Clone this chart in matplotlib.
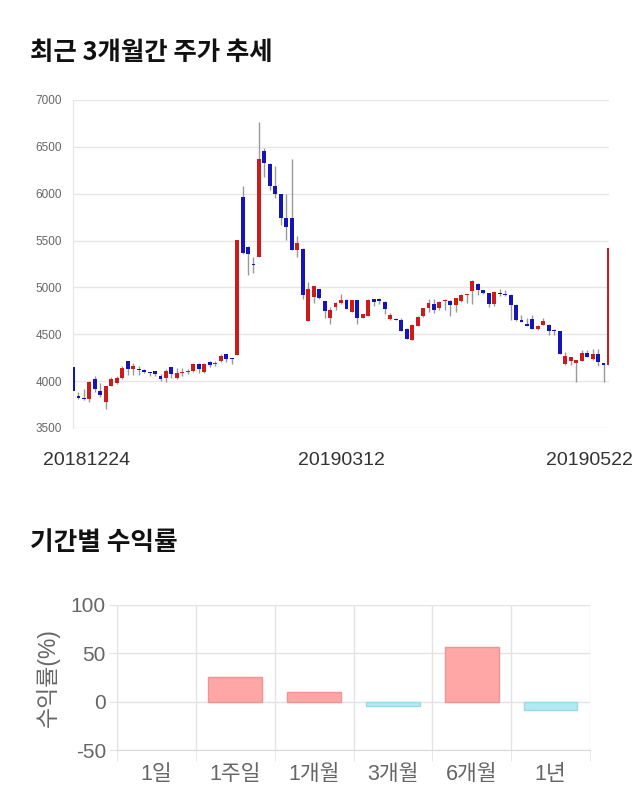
import numpy as np
import matplotlib
matplotlib.use("Agg")
import matplotlib.pyplot as plt
from matplotlib.transforms import ScaledTranslation

plt.rcParams['font.family'] = ['Liberation Sans', 'Noto Sans CJK KR', 'DejaVu Sans']
plt.rcParams['axes.unicode_minus'] = False

# daily candles (open, high, low, close), 20181224 ~ 20190522
opens = [4150, 3840, 3815, 3805, 4020, 3890, 3780, 3950, 3975, 4030,
         4215, 4125, 4128, 4118, 4095, 4105, 4057, 4035, 4150, 4035,
         4085, 4100, 4105, 4180, 4100, 4205, 4185, 4220, 4285, 4245,
         4280, 5960, 5435, 5250, 5330, 6455, 6320, 6080, 5995, 5745,
         5745, 5400, 5415, 4645, 4900, 4980, 4855, 4670, 4795, 4830,
         4865, 4740, 4865, 4678, 4695, 4872, 4880, 4848, 4660, 4660,
         4650, 4560, 4440, 4590, 4690, 4780, 4825, 4780, 4850, 4850,
         4808, 4850, 4915, 4958, 5040, 4968, 4940, 4825, 4935, 4925,
         4920, 4815, 4655, 4612, 4660, 4558, 4600, 4600, 4541, 4536,
         4180, 4218, 4190, 4218, 4304, 4232, 4290, 4189, 4172]
highs = [4150, 3880, 3920, 4000, 4055, 3975, 3950, 4040, 4050, 4160,
         4215, 4190, 4160, 4125, 4100, 4110, 4075, 4130, 4155, 4140,
         4140, 4130, 4190, 4190, 4190, 4215, 4210, 4290, 4290, 4250,
         5510, 6080, 5440, 5330, 6770, 6485, 6330, 6295, 6000, 5995,
         6370, 5550, 5420, 5060, 5020, 4985, 4860, 4790, 4840, 4935,
         4880, 4870, 4870, 4720, 4880, 4880, 4885, 4850, 4730, 4670,
         4670, 4565, 4610, 4690, 4785, 4875, 4880, 4850, 4880, 4870,
         4890, 4930, 4935, 5075, 5045, 4975, 4945, 4960, 4985, 4970,
         4930, 4820, 4710, 4670, 4710, 4600, 4675, 4605, 4560, 4540,
         4310, 4260, 4230, 4330, 4330, 4345, 4340, 4195, 5420]
lows = [3900, 3810, 3800, 3780, 3885, 3835, 3700, 3945, 3970, 4025,
        4065, 4070, 4070, 4085, 4060, 4050, 4000, 3990, 4030, 4020,
        4060, 4080, 4100, 4085, 4090, 4150, 4160, 4200, 4200, 4180,
        4275, 5360, 5130, 5150, 5325, 6180, 6040, 5950, 5665, 5505,
        5395, 5330, 4880, 4640, 4830, 4880, 4670, 4615, 4760, 4820,
        4770, 4735, 4615, 4670, 4690, 4800, 4820, 4720, 4655, 4650,
        4530, 4450, 4435, 4585, 4685, 4735, 4730, 4760, 4760, 4700,
        4740, 4845, 4830, 4820, 4915, 4935, 4790, 4800, 4905, 4905,
        4650, 4645, 4630, 4585, 4555, 4550, 4595, 4495, 4495, 4285,
        4175, 4170, 3995, 4215, 4255, 4225, 4160, 3995, 4165]
closes = [3900, 3815, 3810, 3990, 3920, 3850, 3945, 4020, 4035, 4145,
          4125, 4160, 4120, 4095, 4090, 4075, 4020, 4105, 4080, 4090,
          4095, 4105, 4180, 4125, 4180, 4170, 4190, 4265, 4240, 4240,
          5510, 5365, 5355, 5240, 6370, 6325, 6080, 5995, 5745, 5650,
          5400, 5470, 4920, 4980, 5015, 4890, 4745, 4760, 4830, 4865,
          4775, 4865, 4675, 4712, 4870, 4848, 4850, 4770, 4705, 4655,
          4540, 4455, 4600, 4687, 4780, 4830, 4760, 4843, 4868, 4808,
          4886, 4921, 4932, 5064, 4968, 4940, 4825, 4954, 4930, 4920,
          4815, 4648, 4636, 4590, 4557, 4593, 4646, 4536, 4536, 4290,
          4268, 4254, 4225, 4304, 4261, 4289, 4200, 4172, 5420]
date_ticks = [0, 49, 98]
date_labels = ['20181224', '20190312', '20190522']

# period returns
periods = ['1일', '1주일', '1개월', '3개월', '6개월', '1년']
returns = [0.0, 25.7, 9.6, -4.1, 56.8, -8.6]

W, H = 640, 810
fig = plt.figure(figsize=(W / 100, H / 100), dpi=100)

def box(left, top, right, bottom):
    return [left / W, 1 - bottom / H, (right - left) / W, (bottom - top) / H]

title_font = ['Noto Sans CJK KR', 'DejaVu Sans']
fig.text(30 / W, 1 - 52 / H, '최근 3개월간 주가 추세', fontsize=18.3, family=title_font,
         fontweight='bold', va='center', ha='left', color='#111111')
fig.text(30 / W, 1 - 543 / H, '기간별 수익률', fontsize=18.5, family=title_font,
         fontweight='bold', va='center', ha='left', color='#111111')

# --- candlestick chart ---
ax = fig.add_axes(box(73, 100, 609, 428))
o = np.array(opens, float)
c = np.array(closes, float)
x = np.arange(len(o))
up = c >= o
ax.vlines(x, lows, highs, color='#999999', linewidth=1, zorder=2)
body_low = np.minimum(o, c)
body_h = np.maximum(np.abs(c - o), 12)
ax.bar(x[up], body_h[up], bottom=body_low[up], width=0.72,
       color='#cc1b1b', linewidth=0, zorder=3)
ax.bar(x[~up], body_h[~up], bottom=body_low[~up], width=0.72,
       color='#1414b8', linewidth=0, zorder=3)
ax.set_xlim(0, len(o) - 1)
ax.set_ylim(3500, 7000)
ax.set_yticks(np.arange(3500, 7001, 500))
ax.yaxis.grid(True, color='#e6e6e6', linewidth=1)
ax.set_axisbelow(True)
for s in ['top', 'right', 'bottom']:
    ax.spines[s].set_visible(False)
ax.spines['left'].set_color('#e6e6e6')
ax.tick_params(axis='y', length=0, pad=8, labelsize=8.5, labelcolor='#666666')
ax.tick_params(axis='x', length=0, pad=17, labelsize=14, labelcolor='#333333')
ax.set_xticks(date_ticks)
ax.set_xticklabels(date_labels)
labs = ax.get_xticklabels()
labs[0].set_transform(labs[0].get_transform() + ScaledTranslation(0.14, 0, fig.dpi_scale_trans))
labs[-1].set_transform(labs[-1].get_transform() + ScaledTranslation(-0.20, 0, fig.dpi_scale_trans))

# --- returns bar chart ---
bx = fig.add_axes(box(117, 605, 590, 750))
pos = np.arange(len(periods))
vals = np.array(returns)
face = ['#ffa6a6' if v >= 0 else '#b3e9f3' for v in vals]
edge = ['#f09393' if v >= 0 else '#97dbe9' for v in vals]
lw = [1 if v != 0 else 0 for v in vals]
bx.bar(pos, vals, width=0.68, color=face, edgecolor=edge, linewidth=lw, zorder=3)
bx.set_xlim(-0.5, len(periods) - 0.5)
bx.set_ylim(-50, 100)
bx.set_yticks([-50, 0, 50, 100])
bx.set_xticks(pos)
bx.set_xticklabels(periods)
bx.set_xticks(np.arange(-0.5, len(periods)), minor=True)
bx.yaxis.grid(True, color='#e3e3e3', linewidth=1)
bx.xaxis.grid(True, which='minor', color='#e3e3e3', linewidth=1)
bx.set_axisbelow(True)
for s in ['top', 'right']:
    bx.spines[s].set_visible(False)
bx.spines['left'].set_color('#e3e3e3')
bx.spines['bottom'].set_color('#d9d9d9')
bx.tick_params(axis='x', which='major', length=0, pad=10, labelsize=15.5, labelcolor='#666666')
bx.tick_params(axis='x', which='minor', length=8, color='#e3e3e3')
bx.tick_params(axis='y', length=6, color='#e3e3e3', pad=2, labelsize=15, labelcolor='#666666')
bx.set_ylabel('수익률(%)', fontsize=16.5, color='#666666', labelpad=8)

fig.savefig('out.png', dpi=100, facecolor='white')
